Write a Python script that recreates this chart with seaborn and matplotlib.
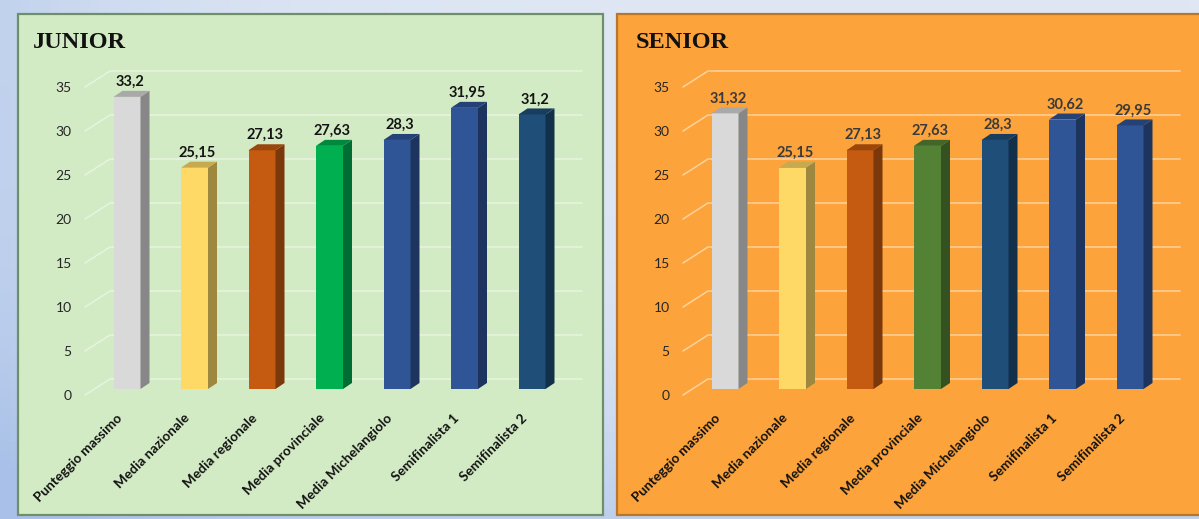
import numpy as np
import pandas as pd
import seaborn as sns
import matplotlib
matplotlib.use("Agg")
import matplotlib.pyplot as plt
import matplotlib.transforms as mtransforms
import matplotlib.colors as mcolors
from matplotlib.patches import Rectangle, Polygon

# ---------------- data ----------------
categories = ["Punteggio massimo", "Media nazionale", "Media regionale",
              "Media provinciale", "Media Michelangiolo",
              "Semifinalista 1", "Semifinalista 2"]
junior_values = [33.2, 25.15, 27.13, 27.63, 28.3, 31.95, 31.2]
senior_values = [31.32, 25.15, 27.13, 27.63, 28.3, 30.62, 29.95]
junior_colors = ["#d9d9d9", "#ffd966", "#c55a11", "#00b050",
                 "#2f5597", "#2f5597", "#1f4e79"]
senior_colors = ["#d9d9d9", "#ffd966", "#c55a11", "#548235",
                 "#1f4e79", "#2f5597", "#2f5597"]
y_ticks = [0, 5, 10, 15, 20, 25, 30, 35]

# ---------------- style ----------------
sns.set_theme(style="white")
plt.rcParams['font.family'] = ['Lato', 'DejaVu Sans']

W, H = 1199, 519
fig = plt.figure(figsize=(W / 100, H / 100), dpi=100)
fig.patch.set_facecolor('#dae3f3')

# soft blue background gradient (lighter top-right, bluer bottom-left)
bg = fig.add_axes([0, 0, 1, 1], zorder=-10)
bg.set_axis_off()
gx = np.linspace(0, 1, 120)[None, :]
gy = np.linspace(0, 1, 60)[:, None]
t = np.clip(0.55 * (1 - gx) ** 6 + 0.6 * gy ** 3, 0, 1)
c_light = np.array(mcolors.to_rgb('#dfe7f4'))
c_dark = np.array(mcolors.to_rgb('#a9c1e8'))
img = c_light[None, None, :] * (1 - t[..., None]) + c_dark[None, None, :] * t[..., None]
bg.imshow(img, aspect='auto', extent=[0, 1, 0, 1], origin='upper')
bg.set_xlim(0, 1)
bg.set_ylim(0, 1)


def fx(px):
    return px / W


def fy(py):
    return 1 - py / H


def shade(c, f):
    r, g, b = mcolors.to_rgb(c)
    return (r * f, g * f, b * f)


def fmt(v):
    return f"{v:g}".replace('.', ',')


# panel backgrounds
fig.add_artist(Rectangle((fx(18), fy(515)), fx(603) - fx(18), fy(14) - fy(515),
                         transform=fig.transFigure, facecolor='#d3ebc5',
                         edgecolor='#6f8f6a', lw=1.6, zorder=0))
fig.add_artist(Rectangle((fx(617), fy(515)), fx(1210) - fx(617), fy(14) - fy(515),
                         transform=fig.transFigure, facecolor='#fda33b',
                         edgecolor='#b8762c', lw=1.6, zorder=0))

PX_X = 67.5          # pixels per category unit
PX_Y = 8.8           # pixels per value unit
AX_W = 497
XL = -42 / PX_X
XR = 6 + 50 / PX_X


def draw_panel(ax_left_px, values, colors, title, title_px, label_color, grid_color):
    ax = fig.add_axes([fx(ax_left_px), fy(395), AX_W / W, (395 - 87) / H])
    ax.set_facecolor('none')
    df = pd.DataFrame({"categoria": categories, "punteggio": values})
    sns.barplot(data=df, x="categoria", y="punteggio", hue="categoria",
                palette=colors, legend=False, width=0.4, saturation=1,
                ax=ax, zorder=3, linewidth=0)
    ax.set_ylim(0, 35)
    ax.set_xlim(XL, XR)
    for s in ax.spines.values():
        s.set_visible(False)
    ax.set_xlabel("")
    ax.set_ylabel("")

    # 3D floor/grid lines
    gdx = 25 / PX_X
    gdy = 16 / PX_Y
    for v in y_ticks:
        ax.plot([XL, XL + gdx, XR], [v, v + gdy, v + gdy], color=grid_color,
                lw=1.1, clip_on=False, zorder=1)

    lift = mtransforms.ScaledTranslation(0, 6 / 100, fig.dpi_scale_trans)
    trans = ax.transData + lift
    dx = 9 / PX_X
    dy = 6 / PX_Y
    for p, v, c in zip(ax.patches, values, colors):
        p.set_transform(trans)
        x0 = p.get_x()
        x1 = x0 + p.get_width()
        h = p.get_height()
        side = Polygon([(x1, 0), (x1 + dx, dy), (x1 + dx, h + dy), (x1, h)],
                       closed=True, facecolor=shade(c, 0.62), lw=0,
                       transform=trans, zorder=3)
        top = Polygon([(x0, h), (x0 + dx, h + dy), (x1 + dx, h + dy), (x1, h)],
                      closed=True, facecolor=shade(c, 0.78), lw=0,
                      transform=trans, zorder=3)
        ax.add_patch(side)
        ax.add_patch(top)
        ax.annotate(fmt(v), xy=(x0 + p.get_width() / 2, h), xycoords=trans,
                    xytext=(3, 11), textcoords='offset pixels',
                    ha='center', va='baseline', fontsize=10.5,
                    fontweight='bold', color=label_color, zorder=5,
                    annotation_clip=False)

    # y tick labels
    ax.set_yticks(y_ticks)
    ax.set_yticklabels([str(t) for t in y_ticks])
    ax.tick_params(axis='y', length=0, pad=9.5, labelsize=10,
                   labelcolor='#262626')
    # category labels (rotated)
    ax.set_xticks([])
    lab_trans = ax.get_xaxis_transform() + mtransforms.ScaledTranslation(
        -7 / 100, -21 / 100, fig.dpi_scale_trans)
    for i, cat in enumerate(categories):
        ax.text(i, 0, cat, transform=lab_trans, rotation=45,
                rotation_mode='anchor', ha='right', va='center',
                fontsize=9.8, fontweight='bold', color='#111111')

    fig.text(fx(title_px), fy(48), title, ha='left', va='baseline',
             fontsize=17.5, fontweight='bold', color='#111111',
             family=['Liberation Serif', 'DejaVu Serif'])
    return ax


draw_panel(85, junior_values, junior_colors, "JUNIOR", 33,
           '#141414', (1, 1, 1, 0.45))
draw_panel(683, senior_values, senior_colors, "SENIOR", 636,
           '#3a3a3a', (1, 0.9, 0.78, 0.7))

fig.savefig("out.png", dpi=100, facecolor=fig.get_facecolor())
